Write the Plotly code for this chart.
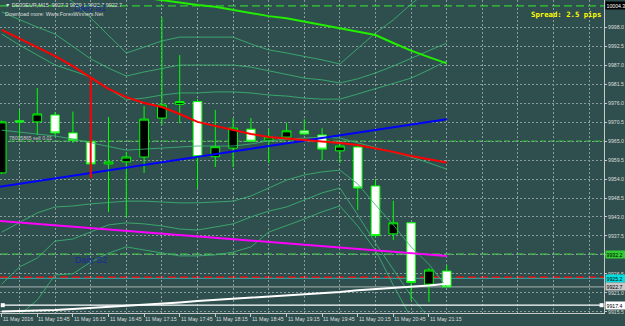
import plotly.graph_objects as go

# ---------------- data ----------------
bars = list(range(26))
opens = [9955.8, 9970.9, 9970.6, 9972.6, 9967.4, 9964.8, 9958.4, 9959.0, 9960.4, 9971.7,
         9975.7, 9976.5, 9960.5, 9963.0, 9968.5, 9965.3, 9966.2, 9968.0, 9966.8, 9962.2,
         9963.3, 9952.0, 9938.1, 9941.3, 9923.5, 9927.3]
highs = [9971.0, 9974.1, 9980.4, 9973.5, 9973.6, 9965.3, 9972.0, 9961.9, 9975.2, 10001.0,
         9990.0, 9977.2, 9974.1, 9971.7, 9971.7, 9968.5, 9970.3, 9971.4, 9968.8, 9964.5,
         9963.6, 9954.0, 9947.7, 9941.5, 9928.2, 9929.1]
lows = [9955.5, 9965.3, 9966.8, 9966.5, 9964.5, 9955.5, 9944.4, 9943.0, 9955.8, 9969.7,
        9970.2, 9951.4, 9957.5, 9957.5, 9964.7, 9958.7, 9966.0, 9966.8, 9959.5, 9958.7,
        9945.0, 9937.2, 9936.3, 9918.9, 9918.3, 9922.7]
closes = [9970.6, 9970.6, 9972.9, 9967.4, 9965.3, 9958.4, 9959.0, 9960.4, 9971.4, 9975.5,
          9976.5, 9960.5, 9963.4, 9968.8, 9965.0, 9966.2, 9968.0, 9967.1, 9962.7, 9963.6,
          9951.4, 9937.6, 9941.3, 9924.0, 9927.6, 9922.7]

tick_bars = [0, 2, 4, 6, 8, 10, 12, 14, 16, 18, 20, 22, 24]
tick_labels = ["11 May 2016", "11 May 15:45", "11 May 16:15", "11 May 16:45", "11 May 17:15",
               "11 May 17:45", "11 May 18:15", "11 May 18:45", "11 May 19:15", "11 May 19:45",
               "11 May 20:15", "11 May 20:45", "11 May 21:15"]
grid_bars = [1, 3, 5, 7, 9, 11, 13, 15, 17, 19, 21, 23, 25, 27, 29, 31, 33]

price_ticks = [9915.5, 9921.0, 9926.5, 9932.0, 9937.5, 9943.0, 9948.5, 9954.0, 9959.5,
               9965.0, 9970.5, 9976.0, 9981.5, 9987.0, 9992.5, 9998.0]
price_tick_labels = ["9915.5", "9921.0", "9926.5", "9932.0", "9937.5", "9943.0", "9948.5",
                     "9954.0", "9959.5", "9965.0", "9970.5", "9976.0", "9981.5", "9987.0",
                     "9992.5", "9998.0"]

red_ma = [9997.3, 9994.7, 9992.2, 9989.7, 9986.8, 9983.6, 9980.2, 9977.8, 9976.1, 9974.9,
          9972.9, 9970.6, 9969.4, 9968.2, 9967.1, 9966.2, 9965.8, 9965.3, 9965.1, 9964.5,
          9963.9, 9963.0, 9961.9, 9960.7, 9959.8, 9958.8]
green_ma = [None, None, None, None, None, None, None, 10007.4, 10006.7, 10005.8,
            10005.3, 10004.5, 10004.0, 10003.1, 10002.2, 10001.3, 10000.7, 9999.7, 9998.8, 9997.9,
            9996.8, 9995.8, 9993.5, 9991.3, 9989.4, 9987.6]
white_ma = [9915.6, 9915.7, 9915.9, 9916.0, 9916.3, 9916.6, 9916.9, 9917.2, 9917.4, 9917.7,
            9918.2, 9918.6, 9918.9, 9919.2, 9919.5, 9919.8, 9920.2, 9920.5, 9920.9, 9921.2,
            9921.7, 9922.0, 9922.4, 9922.7, 9923.1, 9923.6]

band_u3 = [10017.6, 10015.3, 10012.4, 10008.9, 10005.4, 10000.8, 9995.8, 9990.6, 9992.3, 9994.1,
           9995.2, 9995.2, 9995.2, 9995.2, 9993.2, 9991.5, 9990.6, 9989.7, 9988.6, 9987.4,
           9992.0, 9996.4, 10000.2, 10004.8, 10008.9, 10012.4]
band_u2 = [10002.5, 10000.2, 9998.1, 9996.1, 9992.6, 9988.9, 9986.2, 9983.9, 9985.1, 9986.2,
           9987.1, 9987.1, 9987.1, 9987.1, 9986.5, 9985.4, 9984.5, 9983.3, 9982.8, 9981.9,
           9983.1, 9984.8, 9986.8, 9989.1, 9991.2, 9993.5]
band_u1 = [9996.1, 9992.9, 9990.0, 9987.1, 9985.4, 9983.6, 9980.2, 9977.0, 9977.5, 9978.4,
           9979.0, 9979.0, 9979.3, 9979.3, 9979.0, 9978.4, 9978.1, 9977.5, 9977.2, 9977.2,
           9978.7, 9980.2, 9981.9, 9983.3, 9985.7, 9988.3]
band_mid = [9968.2, 9967.7, 9967.1, 9966.5, 9965.6, 9964.5, 9963.3, 9962.4, 9962.7, 9963.0,
            9963.3, 9963.6, 9963.6, 9963.6, 9964.2, 9965.1, 9965.6, 9965.9, 9966.2, 9965.9,
            9964.5, 9963.0, 9961.8, 9960.4, 9958.7, 9956.9]
band_l1 = [9938.6, 9941.5, 9944.2, 9945.9, 9946.2, 9946.8, 9947.3, 9947.6, 9947.6, 9947.3,
           9947.1, 9947.1, 9947.3, 9947.6, 9949.1, 9951.4, 9953.7, 9955.2, 9956.1, 9956.6,
           9952.6, 9946.5, 9940.7, 9934.3, 9929.3, 9922.7]
band_l2 = [9923.5, 9928.5, 9931.1, 9936.0, 9936.6, 9938.6, 9940.7, 9941.3, 9941.0, 9940.4,
           9939.5, 9939.2, 9940.1, 9941.0, 9943.0, 9944.7, 9945.9, 9947.9, 9950.0, 9951.4,
           9943.6, 9935.4, 9927.6, 9920.1, 9913.7, 9907.9]
band_l3 = [9910.2, 9914.6, 9918.9, 9926.2, 9926.5, 9929.9, 9932.5, 9934.3, 9933.4, 9932.5,
           9931.7, 9931.7, 9932.0, 9932.8, 9934.3, 9938.6, 9940.4, 9942.4, 9944.5, 9946.2,
           9940.4, 9933.4, 9923.2, 9913.7, 9905.8, 9898.6]

trend_bars = [-1, 25]
blue_trend = [9951.1, 9971.4]
magenta_trend = [9942.2, 9931.7]

spike_bars = [5, 5]
red_spike = [9983.7, 9954.3]

hline_bars = [0.06, 33.7]
hline_level = 9917.4

daily_s1 = 10004.3
daily_s2 = 9932.2
order_price = 9965.0
red_level = 9925.5
ask_price = 9925.2
bid_price = 9922.7

box_levels = [10004.3, 9932.2, 9925.2, 9922.7, 9917.4]
box_texts = ["10004.3", "9932.2", "9925.2", "9922.7", "9917.4"]
box_colors = ["#000000", "#32CD32", "#00E0E0", "#C8C8C8", "#FFFFFF"]
box_fonts = ["#FFFFFF", "#000000", "#000000", "#000000", "#000000"]

# ---------------- layout helpers ----------------
W, H = 625, 326
ML, MR, MT, MB = 0, 21, 0, 13
PW, PH = W - ML - MR, H - MT - MB
BG = "#2F4F4F"
GRID = "#8a9d9d"
AXC = "#c8c8c8"
TXT = "#dcdcdc"
FONT = "Liberation Sans"


def px(x):
    return (x - ML) / PW


def py(y):
    return 1 - (y - MT) / PH


fig = go.Figure()

# horizontal levels (as shapes below the traces)
for lvl, col, dash, wd in [(daily_s1, "#32CD32", "8px,4px", 1.3),
                           (order_price, "#22C022", "6px,3px", 1.3),
                           (daily_s2, "#32CD32", "8px,4px", 1.3),
                           (red_level, "#FF0000", "8px,4px", 1.3),
                           (ask_price, "#3AA8A8", "solid", 1),
                           (bid_price, "#A8B4B4", "solid", 1)]:
    fig.add_shape(type="line", xref="paper", x0=0, x1=1, yref="y", y0=lvl, y1=lvl,
                  line=dict(color=col, dash=dash, width=wd), layer="below")

fig.add_trace(go.Candlestick(
    x=bars, open=opens, high=highs, low=lows, close=closes,
    increasing=dict(fillcolor="#000000", line=dict(color="#00FF00", width=1)),
    decreasing=dict(fillcolor="#FFFFFF", line=dict(color="#00FF00", width=1)),
    whiskerwidth=0, hoverinfo="skip"))

band_style = dict(color="rgba(60,179,113,0.85)", width=1)
for b in [band_u3, band_u2, band_u1, band_mid, band_l1, band_l2, band_l3]:
    fig.add_trace(go.Scatter(x=bars, y=b, mode="lines", line=band_style, hoverinfo="skip"))

fig.add_trace(go.Scatter(x=trend_bars, y=magenta_trend, mode="lines",
                         line=dict(color="#FF00FF", width=2), hoverinfo="skip"))
fig.add_trace(go.Scatter(x=trend_bars, y=blue_trend, mode="lines",
                         line=dict(color="#0000FF", width=2), hoverinfo="skip"))
fig.add_trace(go.Scatter(x=bars, y=red_ma, mode="lines",
                         line=dict(color="#FF0000", width=2), hoverinfo="skip"))
fig.add_trace(go.Scatter(x=spike_bars, y=red_spike, mode="lines",
                         line=dict(color="#FF0000", width=2), hoverinfo="skip"))
fig.add_trace(go.Scatter(x=bars, y=green_ma, mode="lines",
                         line=dict(color="#22EE00", width=2), hoverinfo="skip"))
fig.add_trace(go.Scatter(x=bars, y=white_ma, mode="lines",
                         line=dict(color="#FFFFFF", width=2), hoverinfo="skip"))
fig.add_trace(go.Scatter(x=hline_bars, y=[hline_level, hline_level], mode="lines+markers",
                         line=dict(color="#FFFFFF", width=1.3),
                         marker=dict(symbol="square", size=4, color="#FFFFFF"),
                         hoverinfo="skip"))

ann = []
ann.append(dict(text="\u25BC DE30EUR,M15  9927.3 9929.1 9922.7 9922.7", x=px(3), y=py(5),
                xref="paper", yref="paper", xanchor="left", yanchor="middle", showarrow=False,
                font=dict(family=FONT, size=5.4, color=TXT)))
ann.append(dict(text="Download more: Www.ForexWinners.Net", x=px(3), y=py(14),
                xref="paper", yref="paper", xanchor="left", yanchor="middle", showarrow=False,
                font=dict(family=FONT, size=5.4, color=TXT)))
ann.append(dict(text="Daily S1", x=px(72), y=py(8.5), xref="paper", yref="paper",
                xanchor="left", yanchor="middle", showarrow=False,
                font=dict(family=FONT, size=8.6, color="#1a2a96")))
ann.append(dict(text="Daily S2", x=px(73), y=py(260), xref="paper", yref="paper",
                xanchor="left", yanchor="middle", showarrow=False,
                font=dict(family=FONT, size=8.6, color="#1a2a96")))
ann.append(dict(text="<b>Spread: 2.5 pips</b>", x=px(603), y=py(14), xref="paper", yref="paper",
                xanchor="right", yanchor="middle", showarrow=False,
                font=dict(family="DejaVu Sans Mono", size=7.3, color="#FFFF00")))
ann.append(dict(text="78005865 sell 0.01", x=px(7), y=py(137.5), xref="paper", yref="paper",
                xanchor="left", yanchor="middle", showarrow=False,
                font=dict(family=FONT, size=5.1, color="#c8c8c8")))
for tb, tl in zip(tick_bars, tick_labels):
    ann.append(dict(text=tl, x=tb, y=py(319), xref="x", yref="paper", xanchor="left",
                    yanchor="middle", showarrow=False, xshift=-1,
                    font=dict(family=FONT, size=5.3, color=TXT)))
for lv, tx, bc, fc in zip(box_levels, box_texts, box_colors, box_fonts):
    ann.append(dict(text=tx, x=1, y=lv, xref="paper", yref="y", xanchor="left",
                    yanchor="middle", showarrow=False, xshift=1, bgcolor=bc,
                    width=19, height=6, align="left", borderpad=0.5,
                    font=dict(family=FONT, size=5.2, color=fc)))

fig.update_layout(
    width=W, height=H, margin=dict(l=ML, r=MR, t=MT, b=MB, pad=0),
    paper_bgcolor=BG, plot_bgcolor=BG, showlegend=False,
    annotations=ann,
    xaxis=dict(range=[-0.0955, 33.837], tickmode="array", tickvals=tick_bars,
               showticklabels=False, ticks="outside", ticklen=3, tickcolor=AXC,
               showgrid=False, showline=True, linecolor=AXC, linewidth=1, zeroline=False,
               rangeslider=dict(visible=False), fixedrange=True,
               minor=dict(tickvals=grid_bars, showgrid=True, gridcolor=GRID,
                          griddash="2px,2px", gridwidth=1, ticks="")),
    yaxis=dict(range=[9915.13, 10005.98], side="right", tickmode="array",
               tickvals=price_ticks, ticktext=price_tick_labels,
               ticks="outside", ticklen=2, tickcolor=AXC,
               tickfont=dict(family=FONT, size=5.2, color=TXT),
               showgrid=True, gridcolor=GRID, griddash="2px,2px", gridwidth=1,
               showline=True, linecolor=AXC, linewidth=1, mirror=True,
               zeroline=False, fixedrange=True),
)

fig.write_html("out.html")
